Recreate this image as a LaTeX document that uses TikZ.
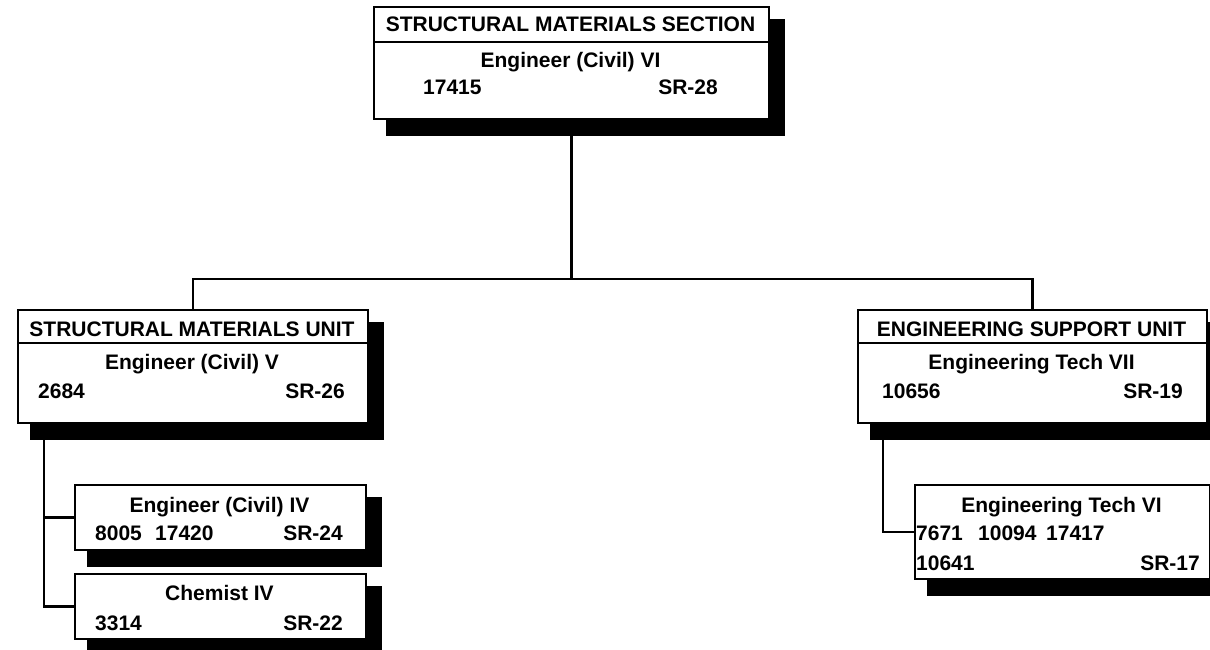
\documentclass[tikz,border=0pt]{standalone}
\usepackage{fontspec}
\setmainfont{Liberation Sans}
\usetikzlibrary{backgrounds}
\begin{document}
\begin{tikzpicture}[x=1pt,y=-1pt,
  box/.style={draw=black,fill=white,line width=2pt,inner sep=0pt,anchor=north west},
  txt/.style={font=\fontsize{21}{25}\selectfont\bfseries,inner sep=0pt},
  conn/.style={line width=2.4pt},
  rule/.style={line width=2pt},
  shadowfill/.style={fill=black}]
\useasboundingbox (0,0) rectangle (1210,650);
% boxes
\node[box,minimum width=395pt,minimum height=112pt] (top) at (373,6) {};
\node[box,minimum width=350pt,minimum height=113pt] (lbox) at (17,309) {};
\node[box,minimum width=349pt,minimum height=113pt] (rbox) at (857,309) {};
\node[box,minimum width=291pt,minimum height=65pt] (c1) at (74,484) {};
\node[box,minimum width=291pt,minimum height=65pt] (c2) at (74,573) {};
\node[box,minimum width=295pt,minimum height=94pt] (rc) at (914,484) {};
% header rules
\coordinate (h1) at (0,42);
\coordinate (h2) at (0,343);
\draw[rule] (top.west |- h1) -- (top.east |- h1);
\draw[rule] (lbox.west |- h2) -- (lbox.east |- h2);
\draw[rule] (rbox.west |- h2) -- (rbox.east |- h2);
% connectors and shadows
\coordinate (bus) at (0,279);
\begin{scope}[on background layer]
  \draw[conn] (top.south) -- (top.south |- bus);
  \draw[conn] (lbox.north) |- (rbox.north |- bus) -- (rbox.north);
  \draw[conn] ([xshift=27pt]lbox.south west) |- (c1.west);
  \draw[conn] ([xshift=27pt]lbox.south west) |- (c2.west);
  \draw[conn] ([xshift=26pt]rbox.south west) |- (rc.west);
  \foreach \n in {top,lbox,rbox,c1,c2,rc}
    \fill[shadowfill] ([xshift=13pt,yshift=-13pt]\n.north west) rectangle ([xshift=15pt,yshift=-16pt]\n.south east);
\end{scope}
% texts
\node[txt,anchor=base] (tH) at (570.5,32) {STRUCTURAL MATERIALS SECTION};
\node[txt,anchor=base] (tT) at (570.5,68) {Engineer (Civil) VI};
\node[txt,anchor=base west] (tA) at (423,95) {17415};
\node[txt,anchor=base east] (tB) at (718,95) {SR-28};
\node[txt,anchor=base] (lH) at (192,336) {STRUCTURAL MATERIALS UNIT};
\node[txt,anchor=base] (lT) at (192,369) {Engineer (Civil) V};
\node[txt,anchor=base west] (lA) at (38,398) {2684};
\node[txt,anchor=base east] (lB) at (345,398) {SR-26};
\node[txt,anchor=base] (rH) at (1031.5,336) {ENGINEERING SUPPORT UNIT};
\node[txt,anchor=base] (rT) at (1031.5,369) {Engineering Tech VII};
\node[txt,anchor=base west] (rA) at (882,398) {10656};
\node[txt,anchor=base east] (rB) at (1183,398) {SR-19};
\node[txt,anchor=base] (c1T) at (219.5,512) {Engineer (Civil) IV};
\node[txt,anchor=base west] (c1A) at (95,540) {8005};
\node[txt,anchor=base west] (c1C) at (155,540) {17420};
\node[txt,anchor=base east] (c1B) at (343,540) {SR-24};
\node[txt,anchor=base] (c2T) at (219.5,600) {Chemist IV};
\node[txt,anchor=base west] (c2A) at (95,630) {3314};
\node[txt,anchor=base east] (c2B) at (343,630) {SR-22};
\node[txt,anchor=base] (rcT) at (1061.5,512) {Engineering Tech VI};
\node[txt,anchor=base west] (rcA) at (916,540) {7671};
\node[txt,anchor=base west] (rcC) at (978,540) {10094};
\node[txt,anchor=base west] (rcD) at (1046,540) {17417};
\node[txt,anchor=base west] (rcE) at (916,570) {10641};
\node[txt,anchor=base east] (rcB) at (1200,570) {SR-17};
\end{tikzpicture}
\end{document}
